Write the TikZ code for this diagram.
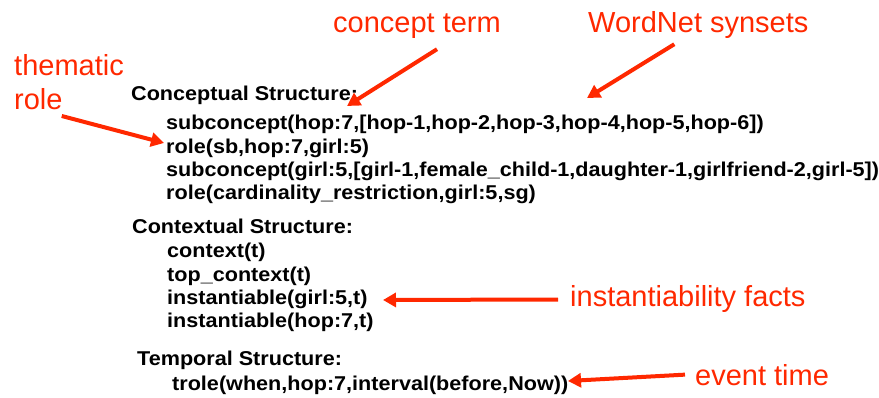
\documentclass[tikz,border=0pt]{standalone}
\usepackage{fontspec}
\setmainfont{Liberation Sans}
\newfontfamily\codefont[FakeStretch=1.08]{Liberation Sans}
\usetikzlibrary{arrows.meta,calc}
\definecolor{notered}{RGB}{255,40,0}
\tikzset{
  code/.style={anchor=base west,inner sep=0pt,font=\codefont\bfseries\fontsize{20}{20}\selectfont,text=black},
  note/.style={anchor=base west,inner sep=0pt,font=\fontsize{29}{29}\selectfont,text=notered},
  pointer/.style={draw=notered,line width=4pt,-{Triangle[length=13pt,width=14pt]}}
}
\begin{document}
\begin{tikzpicture}[x=1pt,y=-1pt]
\useasboundingbox (0,0) rectangle (879,398);
% conceptual structure
\node[code] (cs)  at (131,101) {Conceptual Structure:};
\node[code] (sc1) at (166,130) {subconcept(hop:7,[hop-1,hop-2,hop-3,hop-4,hop-5,hop-6])};
\node[code] (r1)  at (166,154) {role(sb,hop:7,girl:5)};
\node[code] (sc2) at (166,177) {subconcept(girl:5,[girl-1,female\_child-1,daughter-1,girlfriend-2,girl-5])};
\node[code] (r2)  at (166,200) {role(cardinality\_restriction,girl:5,sg)};
% contextual structure
\node[code] (xs)  at (132,234) {Contextual Structure:};
\node[code] (c1)  at (167,258) {context(t)};
\node[code] (c2)  at (167,282) {top\_context(t)};
\node[code] (i1)  at (167,305) {instantiable(girl:5,t)};
\node[code] (i2)  at (167,328) {instantiable(hop:7,t)};
% temporal structure
\node[code] (ts)  at (137,366) {Temporal Structure:};
\node[code] (tr)  at (172,390) {trole(when,hop:7,interval(before,Now))};
% annotations
\node[note] (ct)  at (333,33) {concept term};
\node[note] (wn)  at (588,33) {WordNet synsets};
\node[note] (th1) at (14,76) {thematic};
\node[note] (th2) at (14,110) {role};
\node[note] (inf) at (570,307) {instantiability facts};
\node[note] (evt) at (695,385) {event time};
% arrow tips
\coordinate (ctTip) at (347,106);
\coordinate (wnTip) at (587,98);
\coordinate (thTip) at (164,143);
\coordinate (infTip) at (383,300);
\coordinate (evtTip) at (568,381);
\draw[pointer] ($(ct.south)+(20,10)$) -- (ctTip);
\draw[pointer] ($(wn.south)+(-24,5)$) -- (wnTip);
\draw[pointer] ($(th2.base east)+(-1,6)$) -- (thTip);
\draw[pointer] ($(inf.west)+(-12,0)$) -- (infTip);
\draw[pointer] ($(evt.west)+(-10,0)$) -- (evtTip);
\end{tikzpicture}
\end{document}
